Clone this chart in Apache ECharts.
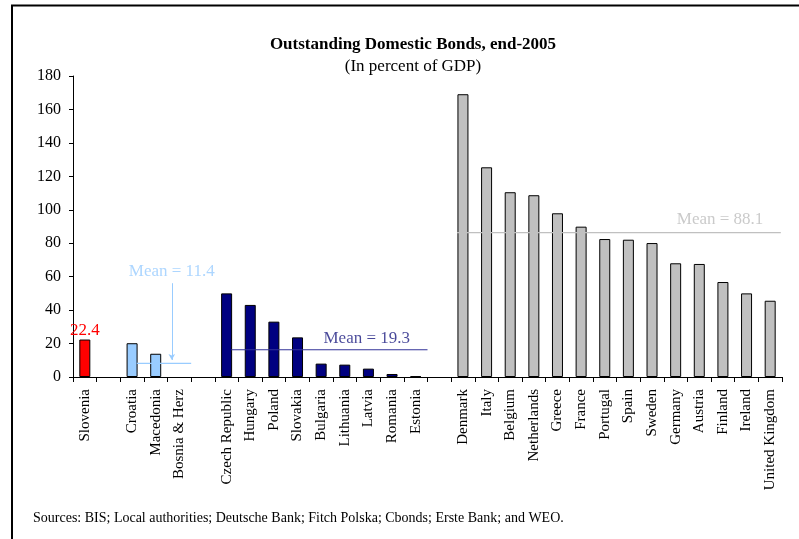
<!DOCTYPE html>
<html>
<head>
<meta charset="utf-8">
<script src="https://cdn.jsdelivr.net/npm/echarts@6/dist/echarts.min.js"></script>
<style>html,body{margin:0;padding:0;background:#fff;}#c{width:799px;height:539px;}</style>
</head>
<body>
<div id="c"></div>
<script>
// Categories (empty strings are gaps between groups)
const categories = ['Slovenia','','Croatia','Macedonia','Bosnia & Herz','',
  'Czech Republic','Hungary','Poland','Slovakia','Bulgaria','Lithuania','Latvia','Romania','Estonia','',
  'Denmark','Italy','Belgium','Netherlands','Greece','France','Portugal','Spain','Sweden','Germany',
  'Austria','Finland','Ireland','United Kingdom'];
// Group values
const sloveniaNames = ['Slovenia'];
const sloveniaValues = [22.4];
const seeNames = ['Croatia','Macedonia','Bosnia & Herz'];
const seeValues = [20.2, 13.9, 0];
const ceeNames = ['Czech Republic','Hungary','Poland','Slovakia','Bulgaria','Lithuania','Latvia','Romania','Estonia'];
const ceeValues = [50.0, 43.1, 33.1, 23.7, 8.0, 7.4, 5.0, 1.8, 0.4];
const euNames = ['Denmark','Italy','Belgium','Netherlands','Greece','France','Portugal','Spain','Sweden','Germany','Austria','Finland','Ireland','United Kingdom'];
const euValues = [169.1, 125.4, 110.5, 108.7, 97.9, 89.9, 82.5, 82.1, 80.1, 68.0, 67.6, 56.8, 50.0, 45.6];
// Mean annotations
const meanLabels = ['Mean = 11.4', 'Mean = 19.3', 'Mean = 88.1'];
const meanLevels = [8.2, 16.3, 86.3];             // drawn level of each mean line
const meanSpans = [[2.7, 5.0], [6.7, 15.0], [16.25, 29.95]]; // in category-slot units
const meanLabelPos = [[4.18, 62.8], [12.43, 23.3], [27.38, 93.9]];
const arrowFrom = [4.18, 56.1];
const arrowTo = [4.18, 10.2];
const yTicks = [0, 20, 40, 60, 80, 100, 120, 140, 160, 180];

const FONT = 'Liberation Serif';

function fill(names, values) {
  return categories.map(c => {
    const i = names.indexOf(c);
    if (c === '' || i < 0) return '-';
    const v = values[i];
    return v === 0 ? { value: 0, itemStyle: { borderWidth: 0, opacity: 0 } } : v;
  });
}

const barBase = {
  type: 'bar', stack: 'all', barWidth: 11,
  emphasis: { disabled: true }
};
const meanColors = ['#99ccff', '#333399', '#c0c0c0'];
const meanTextColors = ['#99ccff', '#1a1a80', '#bdbdbd'];

const chart = echarts.init(document.getElementById('c'), null, { renderer: 'canvas' });
chart.setOption({
  animation: false,
  backgroundColor: '#fff',
  title: [
    { text: 'Outstanding Domestic Bonds, end-2005', left: 408, top: 31, textAlign: 'center',
      textStyle: { fontFamily: FONT, fontSize: 17, fontWeight: 'bold', color: '#000' } },
    { text: '(In percent of GDP)', left: 408, top: 53, textAlign: 'center',
      textStyle: { fontFamily: FONT, fontSize: 17, fontWeight: 'normal', color: '#000' } }
  ],
  grid: { left: 73, right: 17, top: 76, bottom: 162, containLabel: false },
  xAxis: [
    { type: 'category', data: categories, boundaryGap: true,
      axisLine: { lineStyle: { color: '#000', width: 1 } },
      axisTick: { show: true, interval: 0, length: 5, lineStyle: { color: '#000' } },
      axisLabel: { interval: 0, rotate: 90, fontFamily: FONT, fontSize: 15, color: '#000', margin: 12 } },
    { type: 'value', min: 0, max: 30, show: false }
  ],
  yAxis: {
    type: 'value', min: yTicks[0], max: yTicks[yTicks.length - 1], interval: 20,
    axisLine: { show: true, lineStyle: { color: '#000' } },
    axisTick: { show: true, length: 4, lineStyle: { color: '#000' } },
    splitLine: { show: false },
    axisLabel: { fontFamily: FONT, fontSize: 16, color: '#000', margin: 12 }
  },
  series: [
    Object.assign({}, barBase, { name: 'Slovenia', data: fill(sloveniaNames, sloveniaValues),
      itemStyle: { color: '#ff0000', borderColor: '#000', borderWidth: 1 },
      label: { show: true, position: 'top', distance: 1, color: '#ff0000', fontFamily: FONT, fontSize: 17,
        formatter: p => Number(p.value).toFixed(1) } }),
    Object.assign({}, barBase, { name: 'SEE', data: fill(seeNames, seeValues),
      itemStyle: { color: '#99ccff', borderColor: '#000', borderWidth: 1 } }),
    Object.assign({}, barBase, { name: 'CEE', data: fill(ceeNames, ceeValues),
      itemStyle: { color: '#000080', borderColor: '#000', borderWidth: 1 } }),
    Object.assign({}, barBase, { name: 'EU', data: fill(euNames, euValues),
      itemStyle: { color: '#c0c0c0', borderColor: '#000', borderWidth: 1 } }),
    // mean lines
    ...meanLevels.map((lv, i) => ({
      type: 'line', xAxisIndex: 1, symbol: 'none', silent: true,
      lineStyle: { color: meanColors[i], width: 1.2 },
      data: [[meanSpans[i][0], lv], [meanSpans[i][1], lv]]
    })),
    // arrow for SEE mean
    {
      type: 'line', xAxisIndex: 1, silent: true, data: [],
      markLine: {
        silent: true, symbol: ['none', 'arrow'], symbolSize: [5, 6],
        lineStyle: { color: '#99ccff', width: 1, type: 'solid' },
        label: { show: false },
        data: [[{ coord: arrowFrom }, { coord: arrowTo }]]
      }
    },
    // mean labels
    {
      type: 'scatter', xAxisIndex: 1, symbolSize: 0, silent: true,
      data: meanLabelPos.map((p, i) => ({
        value: p,
        label: { show: true, position: 'inside', formatter: meanLabels[i],
          color: meanTextColors[i], fontFamily: FONT, fontSize: 17 }
      }))
    }
  ],
  graphic: [
    { type: 'line', shape: { x1: 12, y1: 5.5, x2: 12, y2: 539 }, style: { stroke: '#000', lineWidth: 2 } },
    { type: 'line', shape: { x1: 11, y1: 5.5, x2: 799, y2: 5.5 }, style: { stroke: '#000', lineWidth: 2 } },
    { type: 'text', left: 33, top: 511,
      style: { text: 'Sources: BIS; Local authorities; Deutsche Bank; Fitch Polska; Cbonds; Erste Bank; and WEO.',
        fontFamily: FONT, fontSize: 14, fill: '#000' } }
  ]
});
</script>
</body>
</html>
